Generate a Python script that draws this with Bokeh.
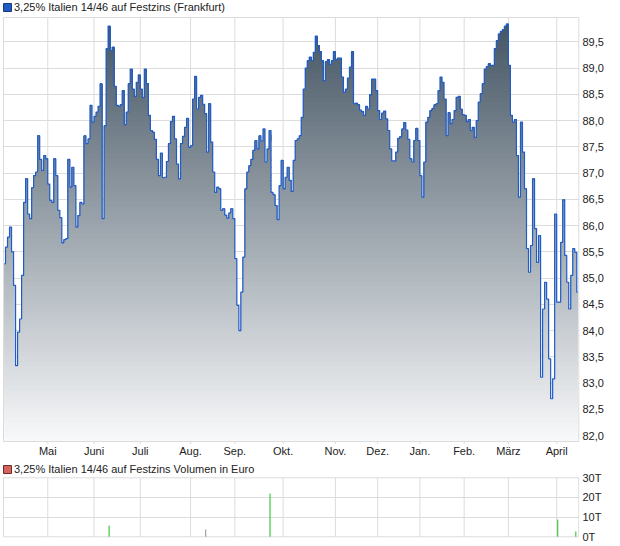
import numpy as np
from bokeh.plotting import figure
from bokeh.layouts import column
from bokeh.models import (Range1d, FixedTicker, CustomJSTickFormatter, Legend, LegendItem)
from bokeh.embed import file_html
from bokeh.resources import INLINE

apr24 = [85.27,85.59,85.78,85.97,85.50,84.86,83.33,83.97,84.22,85.05,86.44,86.89,86.22,86.13,86.72,86.95,87.02,87.71,87.26,87.05,87.33,87.27]
mai24 = [86.79,86.48,86.44,87.27,86.95,86.29,86.15,85.67,85.73,85.75,87.26,86.73,87.11,86.76,85.97,86.19,86.44,86.41,87.71,87.56,87.65,88.29,87.97]
jun24 = [88.08,88.16,88.27,88.70,86.13,87.90,89.37,89.80,89.33,89.40,88.65,88.29,88.27,88.30,88.57,87.92,88.16,88.70,88.98,88.60,88.46,88.73,88.87]
jul24 = [88.60,88.44,88.98,88.70,88.10,87.81,87.78,87.64,87.26,86.95,87.38,86.91,86.92,87.22,87.56,87.98,88.08,87.65,87.17,86.89,87.56,87.70,87.87,88.04,87.49]
aug24 = [87.52,88.41,88.84,88.22,88.44,88.48,88.31,88.13,87.40,88.32,87.59,87.02,86.63,86.73,86.70,86.29,86.32,86.20,86.14,86.24,86.32,86.13]
sep24 = [85.37,84.48,84.00,84.73,85.40,86.70,87.02,87.14,87.26,87.43,87.62,87.46,87.71,87.61,87.84,87.21,87.46,87.81,86.63,86.59,86.38,86.11,86.76,87.24]
okt24 = [86.70,86.92,87.11,86.86,86.65,87.24,87.62,87.65,87.71,88.06,88.60,89.00,89.14,89.21,89.14,89.30,89.61,89.43,89.31,89.14,88.76,89.12,89.16,89.07,89.14,89.31]
nov24 = [89.16,89.19,89.19,88.83,88.54,88.60,88.81,89.02,89.31,88.32,88.33,88.30,88.20,88.17,88.10,88.27,88.22,88.49,88.79,88.79,88.57]
dez24 = [88.19,88.02,88.14,88.18,88.03,87.81,87.46,87.23,87.23,87.40,87.66,87.69,87.84,87.96,87.82,87.64,87.27,87.21,87.62,87.85,87.62]
jan25 = [86.95,86.54,87.21,87.97,88.06,88.19,88.23,88.30,88.32,88.57,88.83,88.73,88.41,87.71,88.15,87.94,88.02,88.19,88.44,88.46,88.22,88.11]
feb25 = [88.10,87.98,88.02,87.81,87.87,87.68,88.00,88.35,88.51,88.70,88.98,89.03,89.08,89.05,89.05,89.37,89.52,89.65,89.70,89.73,89.80,89.84]
mar25 = [89.05,88.10,87.97,88.02,87.33,86.54,87.97,87.40,86.70,85.56,85.11,85.62,86.89,85.94,85.30,85.81,83.11,84.41,84.92,84.60,83.46,82.70,83.08,86.22]
apr25 = [84.54,84.54,85.68,86.49,85.43,84.92,84.41,85.05,85.56,85.49,84.73]

month_series = [apr24, mai24, jun24, jul24, aug24, sep24, okt24, nov24, dez24, jan25, feb25, mar25, apr25]
month_labels = ["", "Mai", "Juni", "Juli", "Aug.", "Sep.", "Okt.", "Nov.", "Dez.", "Jan.", "Feb.", "März", "April"]

price_ticks = [82.0, 82.5, 83.0, 83.5, 84.0, 84.5, 85.0, 85.5, 86.0, 86.5, 87.0, 87.5, 88.0, 88.5, 89.0, 89.5]

# volume (in thousand euro): month, observation within month, value, colour
vol_month = ["Juni", "Aug.", "Sep.", "April", "April"]
vol_obs = [7, 7, 17, 0, 9]
vol_value = [5.7, 3.7, 22.0, 8.8, 2.7]
vol_color = ["#3fc83f", "#a0a0a0", "#3fc83f", "#3fc83f", "#3fc83f"]
vol_ticks = [0, 10, 20, 30]

title_main = "3,25% Italien 14/46 auf Festzins (Frankfurt)"
title_vol = "3,25% Italien 14/46 auf Festzins Volumen in Euro"

# ---- derived ----
price = np.concatenate([np.array(m, dtype=float) for m in month_series])
n = len(price)
x = np.arange(n)
starts = np.cumsum([0] + [len(m) for m in month_series])[:-1]
tick_pos = [float(s) - 0.5 for s in starts[1:]]
tick_lab = month_labels[1:]
x_left, x_right = -0.5, n - 0.5

FONT = "Liberation Sans"
GRID = "#dcdcdc"
TXT = "#222222"
W = 620
nan = float("nan")

# price panel geometry (value range of the chart box)
y_bot, y_top = 81.886, 89.963
ppu = 424.0 / (y_top - y_bot)          # pixels per price unit inside the box
xpu = 575.3 / n                        # pixels per observation

xr = Range1d(x_left - 1.0 / xpu, x_right + 0.7 / xpu)

p1 = figure(width=W, height=460, output_backend="svg", toolbar_location=None,
            x_range=xr, y_range=Range1d(y_bot - 3.0 / ppu, y_top + 17.0 / ppu),
            y_axis_location="right", title=None,
            min_border_left=2, min_border_right=41, min_border_top=0, min_border_bottom=16)
p1.outline_line_color = None
p1.background_fill_color = "white"
p1.border_fill_color = "white"

# grid: horizontal via grid, vertical month lines (with small ticks below the box)
p1.xgrid.grid_line_color = None
p1.ygrid.ticker = FixedTicker(ticks=price_ticks)
p1.ygrid.grid_line_color = GRID
p1.segment(x0=tick_pos, y0=[y_bot - 2.5 / ppu] * len(tick_pos), x1=tick_pos, y1=[y_top] * len(tick_pos),
           line_color=GRID, line_width=1, level="underlay")

# gradient fill: stacked bands, each from its lower edge up to the curve
nb = 90
c_bot = np.array([248, 249, 250])
c_top = np.array([66, 83, 97])
for k in range(nb):
    lo = y_bot + (y_top - y_bot) * k / nb
    t = (k + 0.5) / nb
    c = (c_bot + (c_top - c_bot) * t).round().astype(int)
    col = "#%02x%02x%02x" % tuple(c)
    p1.varea_step(x=x, y1=np.minimum(price, lo), y2=price, step_mode="center", fill_color=col)

p1.step(x=x, y=price, mode="center", line_color="#1f5cc8", line_width=1.2)

# chart box border
p1.segment(x0=[x_left, x_right, x_left, x_left], y0=[y_bot, y_bot, y_bot, y_top],
           x1=[x_left, x_right, x_right, x_right], y1=[y_top, y_top, y_bot, y_top],
           line_color=GRID, line_width=1, level="overlay")

# axes
p1.xaxis.ticker = FixedTicker(ticks=tick_pos)
p1.xaxis.formatter = CustomJSTickFormatter(args=dict(t=tick_pos, l=tick_lab), code="""
for (let i = 0; i < t.length; i++) { if (Math.abs(t[i] - tick) < 0.01) return l[i]; }
return "";
""")
p1.xaxis.axis_line_color = None
p1.xaxis.major_tick_line_color = None
p1.xaxis.minor_tick_line_color = None
p1.xaxis.major_tick_out = 0
p1.xaxis.major_tick_in = 0
p1.xaxis.major_label_standoff = 0
p1.xaxis.major_label_text_font = FONT
p1.xaxis.major_label_text_font_size = "11px"
p1.xaxis.major_label_text_color = TXT

p1.yaxis.ticker = FixedTicker(ticks=price_ticks)
p1.yaxis.formatter = CustomJSTickFormatter(code="return tick.toFixed(1).replace('.', ',');")
p1.yaxis.axis_line_color = None
p1.yaxis.major_tick_line_color = None
p1.yaxis.minor_tick_line_color = None
p1.yaxis.major_tick_out = 0
p1.yaxis.major_tick_in = 0
p1.yaxis.major_label_standoff = 3
p1.yaxis.major_label_text_font = FONT
p1.yaxis.major_label_text_font_size = "11px"
p1.yaxis.major_label_text_color = TXT

key1 = p1.quad(left=[nan], right=[nan], top=[nan], bottom=[nan], fill_color="#1f5bc6", line_color="#1a3a78")
leg1 = Legend(items=[LegendItem(label=title_main, renderers=[key1])], location=(0, 431),
              orientation="horizontal", border_line_color=None, background_fill_alpha=0,
              padding=0, margin=0, spacing=0, glyph_width=10, glyph_height=10,
              label_standoff=2, label_text_font=FONT, label_text_font_size="11px",
              label_text_color=TXT)
p1.add_layout(leg1)

# ---- volume chart ----
vpu = 59.0 / 30.0
p2 = figure(width=W, height=86, output_backend="svg", toolbar_location=None,
            x_range=xr, y_range=Range1d(-1.7 / vpu, 30 + 17.3 / vpu), y_axis_location="right",
            title=None, min_border_left=2, min_border_right=41, min_border_top=0, min_border_bottom=8)
p2.outline_line_color = None
p2.xaxis.visible = False
p2.xgrid.grid_line_color = None
p2.ygrid.ticker = FixedTicker(ticks=vol_ticks[1:-1])
p2.ygrid.grid_line_color = GRID
p2.segment(x0=tick_pos, y0=[0] * len(tick_pos), x1=tick_pos, y1=[30] * len(tick_pos),
           line_color=GRID, line_width=1, level="underlay")
p2.segment(x0=[x_left, x_right, x_left, x_left], y0=[0, 0, 0, 30],
           x1=[x_left, x_right, x_right, x_right], y1=[30, 30, 0, 30],
           line_color=GRID, line_width=1, level="underlay")

label_index = {lab: i for i, lab in enumerate(month_labels)}
vx = [int(starts[label_index[m]]) + o for m, o in zip(vol_month, vol_obs)]
p2.segment(x0=vx, y0=[0] * len(vx), x1=vx, y1=vol_value, line_color=vol_color, line_width=1.2)

p2.yaxis.ticker = FixedTicker(ticks=vol_ticks)
p2.yaxis.formatter = CustomJSTickFormatter(code="return tick.toFixed(0) + 'T';")
p2.yaxis.axis_line_color = None
p2.yaxis.major_tick_line_color = None
p2.yaxis.minor_tick_line_color = None
p2.yaxis.major_tick_out = 0
p2.yaxis.major_tick_in = 0
p2.yaxis.major_label_standoff = 3
p2.yaxis.major_label_text_font = FONT
p2.yaxis.major_label_text_font_size = "11px"
p2.yaxis.major_label_text_color = TXT

key2 = p2.quad(left=[nan], right=[nan], top=[nan], bottom=[nan], fill_color="#d8625e", line_color="#6e2a28")
leg2 = Legend(items=[LegendItem(label=title_vol, renderers=[key2])], location=(0, 63),
              orientation="horizontal", border_line_color=None, background_fill_alpha=0,
              padding=0, margin=0, spacing=0, glyph_width=10, glyph_height=10,
              label_standoff=2, label_text_font=FONT, label_text_font_size="11px",
              label_text_color=TXT)
p2.add_layout(leg2)

layout = column(p1, p2, spacing=0)

open("out.html", "w").write(file_html(layout, INLINE))
